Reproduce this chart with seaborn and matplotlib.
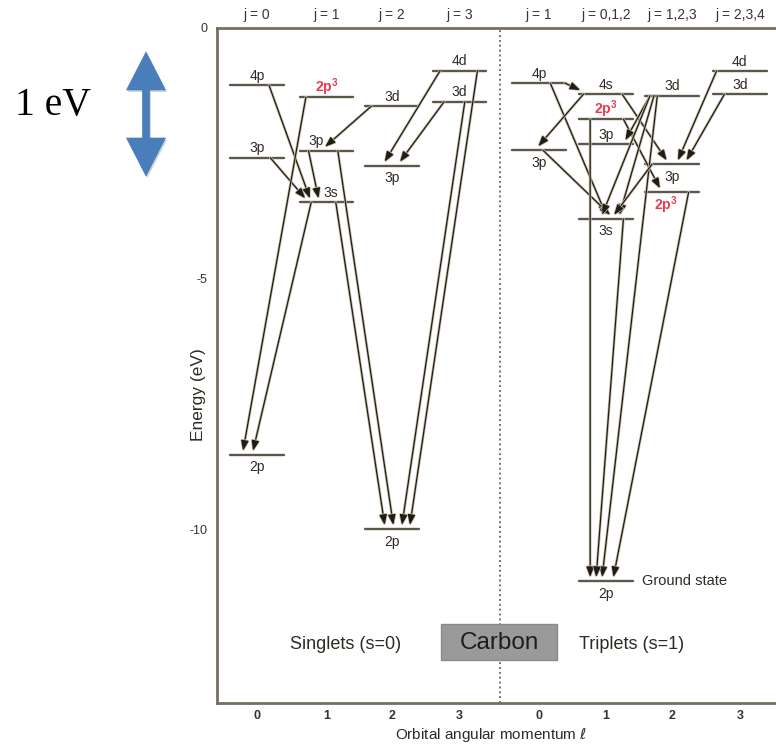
import numpy as np
import pandas as pd
import matplotlib
matplotlib.use("Agg")
import matplotlib.pyplot as plt
import matplotlib.patheffects as pe
from matplotlib.patches import Polygon, Rectangle
import seaborn as sns

# niveaux d'energie du carbone (eV) - singulets (S) puis triplets (T)
level_id = ['S4p0', 'S3p0', 'S2p0', 'S2p3a', 'S3p1', 'S3s1', 'S3d2', 'S3p2', 'S2p2', 'S4d3', 'S3d3',
            'T4p0', 'T3p0', 'T4s1', 'T2p3a', 'T3p1', 'T3s1', 'T2p1', 'T3d2', 'T3p2', 'T2p3b', 'T4d3', 'T3d3']
level_spin = ['S'] * 11 + ['T'] * 12
level_l = [0, 0, 0, 1, 1, 1, 2, 2, 2, 3, 3,
           0, 0, 1, 1, 1, 1, 1, 2, 2, 2, 3, 3]
level_E = [-1.14, -2.59, -8.52, -1.38, -2.45, -3.48, -1.56, -2.75, -10.0, -0.85, -1.47,
           -1.10, -2.44, -1.32, -1.82, -2.32, -3.81, -11.04, -1.35, -2.72, -3.28, -0.86, -1.32]
level_name = ['4p', '3p', '2p', '2p3', '3p', '3s', '3d', '3p', '2p', '4d', '3d',
              '4p', '3p', '4s', '2p3', '3p', '3s', '2p', '3d', '3p', '2p3', '4d', '3d']

# transitions (niveau haut -> niveau bas)
trans_from = ['S4p0', 'S3p0', 'S3p1', 'S2p3a', 'S3s1', 'S3d2', 'S4d3', 'S3d3', 'S3s1', 'S3p1', 'S3d3', 'S4d3',
              'T4p0', 'T4p0', 'T3p0', 'T4s1', 'T4s1', 'T2p3a', 'T2p3a', 'T3d2', 'T3d2', 'T3d2', 'T3d2',
              'T3s1', 'T2p3b', 'T3p2', 'T4d3', 'T3d3']
trans_to = ['S3s1', 'S3s1', 'S3s1', 'S2p0', 'S2p0', 'S3p1', 'S3p2', 'S3p2', 'S2p2', 'S2p2', 'S2p2', 'S2p2',
            'T4s1', 'T3s1', 'T3s1', 'T3p0', 'T3p2', 'T2p3b', 'T2p1', 'T3p1', 'T3s1', 'T3s1', 'T2p1',
            'T2p1', 'T2p1', 'T3s1', 'T3p2', 'T3p2']

j_labels = ['j = 0', 'j = 1', 'j = 2', 'j = 3', 'j = 1', 'j = 0,1,2', 'j = 1,2,3', 'j = 2,3,4']
l_labels = ['0', '1', '2', '3', '0', '1', '2', '3']

# --- mise en page ---
col_x = {'S': [0, 1.045, 2.03, 3.045], 'T': [4.24, 5.25, 6.24, 7.26]}
half_w = 0.405
# decalages horizontaux des fleches sur les niveaux (depart, arrivee)
dx_from = [0.18, 0.20, -0.27, -0.31, -0.23, -0.31, -0.29, -0.23, 0.14, 0.17, 0.08, 0.27,
           0.39, 0.17, 0.06, -0.34, 0.24, 0.26, -0.24, -0.33, -0.33, -0.27, -0.22,
           0.26, 0.25, -0.30, -0.35, -0.23]
dx_to = [-0.25, -0.32, -0.12, -0.21, -0.06, -0.02, -0.11, 0.12, -0.11, 0.02, 0.15, 0.27,
         -0.39, 0.0, 0.06, -0.01, -0.08, -0.18, -0.24, 0.29, -0.06, 0.20, -0.06,
         -0.15, 0.11, 0.12, 0.09, 0.22]
below = {'S2p0', 'S2p2', 'S3p2', 'T3p0', 'T3s1', 'T3p2', 'T2p3b', 'T2p1'}
label_dx = {'S3p1': -0.15, 'S3s1': 0.06, 'T2p3b': -0.10}
red_levels = {'S2p3a', 'T2p3a', 'T2p3b'}

PX, PY = 66.5, 50.1          # pixels par unite (x) et par eV
def dx(px): return (px - 257) / PX
def dy(py): return -(py - 28) / PY

line_c = '#5d574a'
text_c = '#2f2b24'
spine_c = '#766e5f'
red_c = '#ea3a50'

sns.set_theme(style='white')
plt.rcParams['font.family'] = ['Liberation Sans', 'DejaVu Sans']
plt.rcParams['mathtext.fontset'] = 'dejavusans'

fig = plt.figure(figsize=(7.76, 7.47), dpi=100)
ax = fig.add_axes([217 / 776, 44 / 747, 559 / 776, 675 / 747])

# niveaux
xc = {lid: col_x[s][l] for lid, s, l in zip(level_id, level_spin, level_l)}
Ec = dict(zip(level_id, level_E))
rows = []
for lid in level_id:
    rows.append({'level': lid, 'x': xc[lid] - half_w, 'E': Ec[lid]})
    rows.append({'level': lid, 'x': xc[lid] + half_w, 'E': Ec[lid]})
df = pd.DataFrame(rows)
sns.lineplot(data=df, x='x', y='E', units='level', estimator=None, sort=False,
             color=line_c, lw=1.7, ax=ax, legend=False)

for lid, name in zip(level_id, level_name):
    col = red_c if lid in red_levels else text_c
    txt = '$\\mathregular{2p^3}$' if name == '2p3' else name
    y = Ec[lid] - 0.25 if lid in below else Ec[lid] + 0.19
    ax.text(xc[lid] + label_dx.get(lid, 0), y, txt, ha='center', va='center',
            fontsize=10, color=col, fontweight='bold' if lid in red_levels else 'normal')

# transitions
halo = [pe.Stroke(linewidth=2.0, foreground='#c9c0aa'), pe.Normal()]
for a, b, d0, d1 in zip(trans_from, trans_to, dx_from, dx_to):
    ax.annotate('', xy=(xc[b] + d1, Ec[b] + 0.08), xytext=(xc[a] + d0, Ec[a]),
                arrowprops=dict(arrowstyle='-|>,head_length=0.6,head_width=0.22',
                                mutation_scale=10, color='#1f1c17', lw=0.9,
                                shrinkA=0, shrinkB=0, path_effects=halo), zorder=3)

ax.text(xc['T2p1'] + half_w + 0.14, Ec['T2p1'], 'Ground state', ha='left', va='center',
        fontsize=10.5, color=text_c)

# separation singulets / triplets
ax.axvline(dx(500), color='#7a7262', ls=(0, (1, 1.5)), lw=1.4, zorder=1)
ax.add_patch(Rectangle((dx(441), dy(660)), dx(557) - dx(441), dy(624) - dy(660),
                       facecolor='#9a9a9a', edgecolor='#8a8a8a', lw=1, zorder=4))
ax.text(dx(499), dy(643), 'Carbon', ha='center', va='center', fontsize=17.5,
        color='#1d1d1d', zorder=5)
ax.text(dx(345.5), dy(645), 'Singlets (s=0)', ha='center', va='center', fontsize=13, color=text_c)
ax.text(dx(631.5), dy(645), 'Triplets (s=1)', ha='center', va='center', fontsize=13, color=text_c)

# etiquettes j en haut
for xpos, lab in zip(col_x['S'] + col_x['T'], j_labels):
    ax.text(xpos, 1.0193, lab, transform=ax.get_xaxis_transform(), ha='center', va='center',
            fontsize=10, color='#3a3630')

ax.set_xlim(dx(217), dx(776))
ax.set_ylim(dy(703), 0)
ax.set_xticks(col_x['S'] + col_x['T'], labels=l_labels)
ax.set_yticks([0, -5, -10], labels=['0', '-5', '-10'])
ax.tick_params(axis='x', length=0, pad=5, labelsize=9, labelcolor='#333333')
ax.tick_params(axis='y', direction='in', length=6, width=1.5, color=spine_c, pad=7,
               labelsize=9, labelcolor='#333333')
for t in ax.get_xticklabels():
    t.set_fontweight('bold')

xl = ax.set_xlabel('Orbital angular momentum $\\ell$', fontsize=11, color=text_c)
xl.set_va('center')
ax.xaxis.set_label_coords((491 - 217) / 559, -(735 - 703) / 675)
yl = ax.set_ylabel('Energy (eV)', fontsize=12.5, color=text_c)
yl.set_va('center')
ax.yaxis.set_label_coords((198 - 217) / 559, 1 - (395 - 28) / 675)

for side in ['left', 'bottom', 'top']:
    ax.spines[side].set_color(spine_c)
    ax.spines[side].set_linewidth(2)
ax.spines['right'].set_visible(False)

# echelle 1 eV (fleche bleue)
W, H = 776, 747
pts = [(146, 52), (165.5, 90), (149.5, 90), (149.5, 138), (165.5, 138), (146, 176),
       (126.5, 138), (142.5, 138), (142.5, 90), (126.5, 90)]
shadow = Polygon([((x + 1.5) / W, 1 - (y + 2) / H) for x, y in pts], closed=True,
                 transform=fig.transFigure, facecolor='#9aa4b0', edgecolor='none', alpha=0.45)
fig.add_artist(shadow)
arrow = Polygon([(x / W, 1 - y / H) for x, y in pts], closed=True, transform=fig.transFigure,
                facecolor='#4a7ebb', edgecolor='#4a7ebb', lw=0.5)
fig.add_artist(arrow)
fig.text(15 / W, 1 - 106 / H, '1 eV', ha='left', va='center', fontsize=28.5,
         family='Liberation Serif', color='black')

fig.savefig('out.png', dpi=100)
